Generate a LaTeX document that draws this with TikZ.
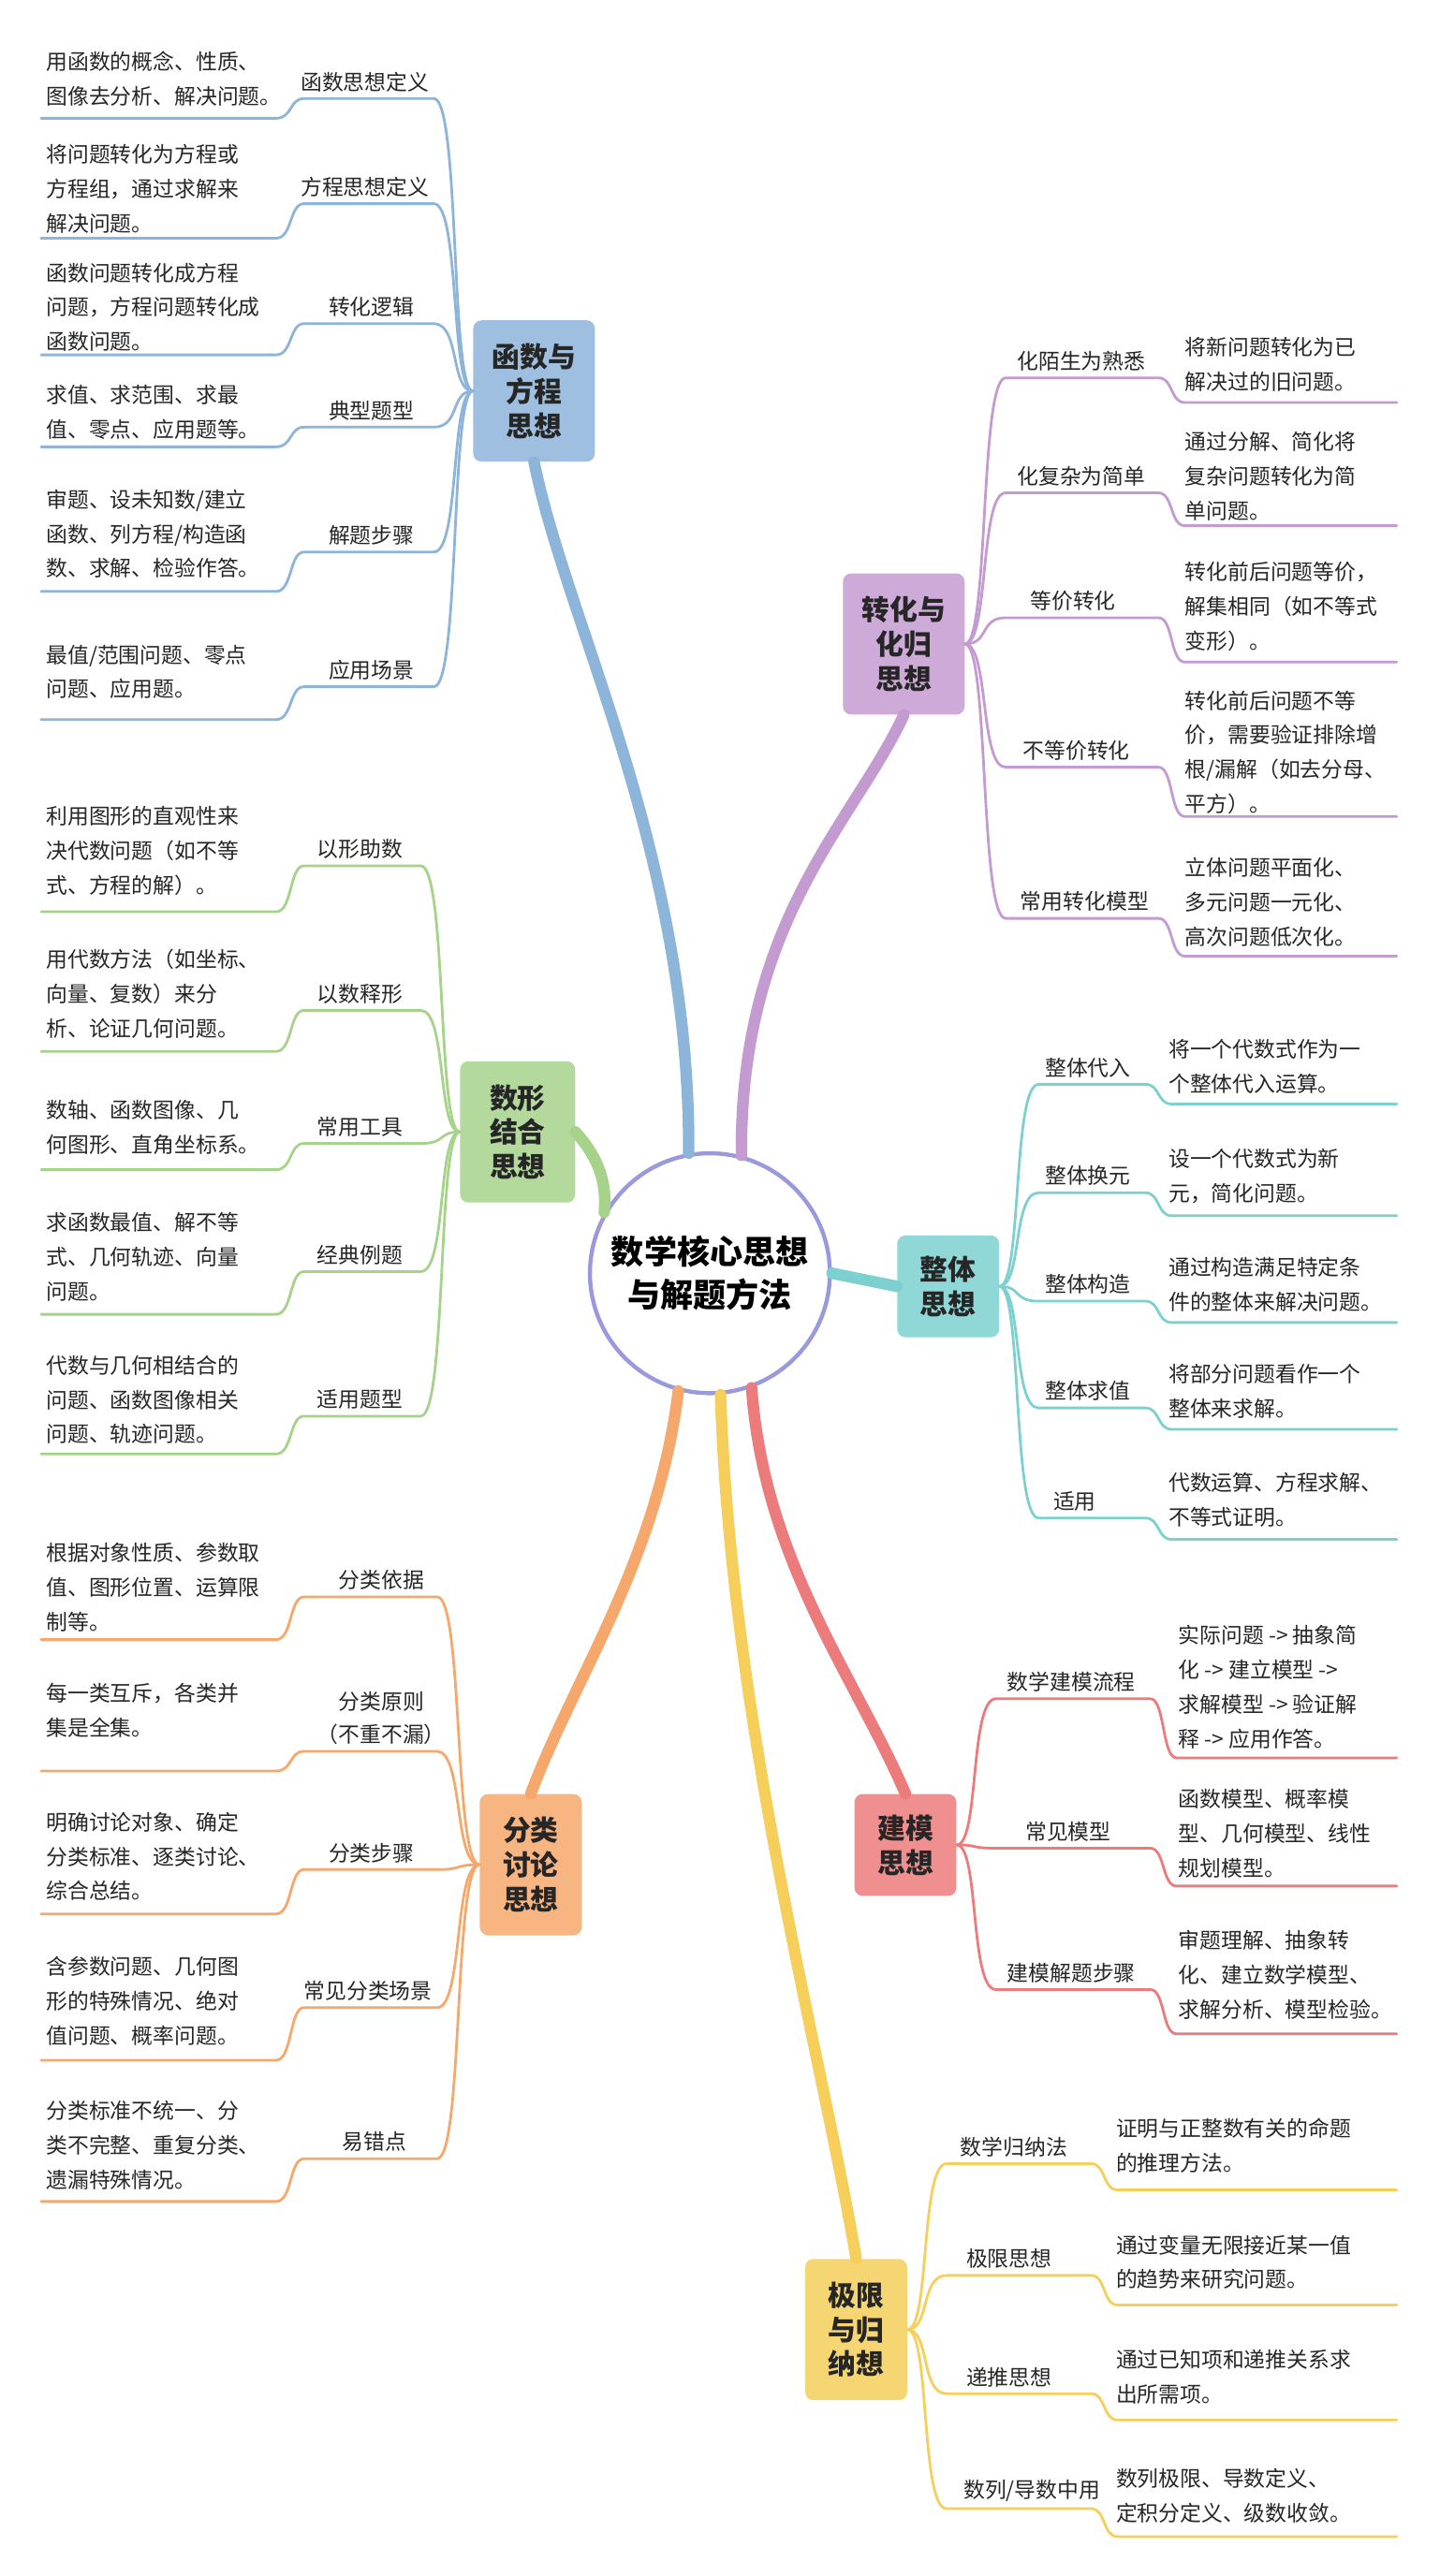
\documentclass[tikz,border=0pt]{standalone}
\usepackage{fontspec}
\setmainfont{Noto Sans CJK SC}
\begin{document}
\begin{tikzpicture}[x=1pt,y=-1pt,
 lab/.style={font=\fontsize{13}{20}\selectfont,text=black!85,align=center,inner sep=1pt},
 desc/.style={font=\fontsize{13}{21}\selectfont,text=black!85,align=left,inner sep=1pt},
 br/.style={line width=1.6pt,line cap=round},
 box/.style={rounded corners=5pt,minimum width=74pt,minimum height=86pt,align=center,font=\fontsize{17}{21}\selectfont\bfseries,text=black!85},
 trunk/.style={line width=7pt,line cap=round}]
\definecolor{cb}{HTML}{8DB4D9}\definecolor{cp}{HTML}{C49BD0}\definecolor{cc}{HTML}{7DD0D0}
\definecolor{cr}{HTML}{EC7B7B}\definecolor{cy}{HTML}{F5CF5A}\definecolor{co}{HTML}{F6A86C}\definecolor{cg}{HTML}{A6D28A}
\useasboundingbox (0,0) rectangle (876,1568);
\fill[white] (0,0) rectangle (876,1568);
\newcommand\lleaf[7]{%
\node[lab,anchor=south] (#1l) at (#2,#3+11) {#4};
\node[desc,anchor=west] (#1d) at (27,#5) {#6};
\draw[br,\cc] (\bn.west) .. controls (\bx-14,\by) and (\bx-8,#3+14) .. (\bx-24,#3+14) -- (185,#3+14) .. controls (176,#3+14) and (178,#7) .. (168,#7) -- (25,#7);}
\newcommand\rleaf[7]{%
\node[lab,anchor=south] (#1l) at (#2,#3+11) {#4};
\node[desc,anchor=west] (#1d) at (\dx,#5) {#6};
\draw[br,\cc] (\bn.east) .. controls (\bx+14,\by) and (\bx+8,#3+14) .. (\bx+24,#3+14) -- (\kx,#3+14) .. controls (\kx+9,#3+14) and (\kx+7,#7) .. (\kx+16,#7) -- (850,#7);}
% center
\node[circle,draw=black!35!blue!40,line width=2.5pt,fill=white,minimum size=146pt,align=center,font=\fontsize{20}{26}\selectfont\bfseries] (C) at (432,775) {数学核心思想\\与解题方法};
% boxes
\node[box,fill=cb!85] (fb) at (325,238) {函数与\\方程\\思想};
\node[box,fill=cp!85] (fp) at (550,392) {转化与\\化归\\思想};
\node[box,fill=cc!85,minimum width=62pt,minimum height=62pt] (fc) at (577,783) {整体\\思想};
\node[box,fill=cr!85,minimum width=62pt,minimum height=62pt] (fr) at (551,1123) {建模\\思想};
\node[box,fill=cy!85,minimum width=62pt] (fy) at (521,1418) {极限\\与归\\纳想};
\node[box,fill=co!85,minimum width=62pt] (fo) at (323,1135) {分类\\讨论\\思想};
\node[box,fill=cg!85,minimum width=70pt] (fg) at (315,689) {数形\\结合\\思想};
% trunks
\draw[trunk,cb] (C.100) .. controls (420,520) and (345,380) .. (fb.south);
\draw[trunk,cp] (C.75) .. controls (450,560) and (520,500) .. (fp.south);
\draw[trunk,cc] (C.east) -- (fc.west);
\draw[trunk,cr] (C.290) .. controls (465,950) and (520,1020) .. (fr.north);
\draw[trunk,cy] (C.275) .. controls (445,1050) and (500,1250) .. (fy.north);
\draw[trunk,co] (C.255) .. controls (400,950) and (350,1020) .. (fo.north);
\draw[trunk,cg] (C.150) .. controls (370,715) and (360,700) .. (fg.east);
% blue
\def\cc{cb}\def\bn{fb}\def\bx{288}\def\by{238}
\lleaf{b1}{222}{46}{函数思想定义}{48}{用函数的概念、性质、\\图像去分析、解决问题。}{72}
\lleaf{b2}{222}{110}{方程思想定义}{115}{将问题转化为方程或\\方程组，通过求解来\\解决问题。}{145}
\lleaf{b3}{226}{183}{转化逻辑}{187}{函数问题转化成方程\\问题，方程问题转化成\\函数问题。}{216}
\lleaf{b4}{226}{246}{典型题型}{251}{求值、求范围、求最\\值、零点、应用题等。}{272}
\lleaf{b5}{226}{322}{解题步骤}{325}{审题、设未知数/建立\\函数、列方程/构造函\\数、求解、检验作答。}{360}
\lleaf{b6}{226}{404}{应用场景}{409}{最值/范围问题、零点\\问题、应用题。}{438}
% green
\def\cc{cg}\def\bn{fg}\def\bx{280}\def\by{689}
\lleaf{g1}{219}{513}{以形助数}{518}{利用图形的直观性来\\决代数问题（如不等\\式、方程的解）。}{555}
\lleaf{g2}{219}{601}{以数释形}{605}{用代数方法（如坐标、\\向量、复数）来分\\析、论证几何问题。}{640}
\lleaf{g3}{219}{682}{常用工具}{686}{数轴、函数图像、几\\何图形、直角坐标系。}{712}
\lleaf{g4}{219}{760}{经典例题}{765}{求函数最值、解不等\\式、几何轨迹、向量\\问题。}{800}
\lleaf{g5}{219}{848}{适用题型}{852}{代数与几何相结合的\\问题、函数图像相关\\问题、轨迹问题。}{885}
% orange
\def\cc{co}\def\bn{fo}\def\bx{290}\def\by{1135}
\lleaf{o1}{232}{958}{分类依据}{966}{根据对象性质、参数取\\值、图形位置、运算限\\制等。}{998}
\lleaf{o2}{232}{1052}{分类原则\\（不重不漏）}{1041}{每一类互斥，各类并\\集是全集。}{1078}
\lleaf{o3}{226}{1124}{分类步骤}{1130}{明确讨论对象、确定\\分类标准、逐类讨论、\\综合总结。}{1165}
\lleaf{o4}{224}{1208}{常见分类场景}{1218}{含参数问题、几何图\\形的特殊情况、绝对\\值问题、概率问题。}{1254}
\lleaf{o5}{228}{1300}{易错点}{1306}{分类标准不统一、分\\类不完整、重复分类、\\遗漏特殊情况。}{1340}
% purple
\def\cc{cp}\def\bn{fp}\def\bx{588}\def\by{392}\def\dx{720}\def\kx{705}
\rleaf{p1}{658}{216}{化陌生为熟悉}{222}{将新问题转化为已\\解决过的旧问题。}{245}
\rleaf{p2}{658}{286}{化复杂为简单}{290}{通过分解、简化将\\复杂问题转化为简\\单问题。}{320}
\rleaf{p3}{653}{362}{等价转化}{369}{转化前后问题等价，\\解集相同（如不等式\\变形）。}{403}
\rleaf{p4}{655}{453}{不等价转化}{458}{转化前后问题不等\\价，需要验证排除增\\根/漏解（如去分母、\\平方）。}{497}
\rleaf{p5}{660}{545}{常用转化模型}{549}{立体问题平面化、\\多元问题一元化、\\高次问题低次化。}{582}
% cyan
\def\cc{cc}\def\bn{fc}\def\bx{608}\def\by{783}\def\dx{710}\def\kx{697}
\rleaf{c1}{662}{646}{整体代入}{649}{将一个代数式作为一\\个整体代入运算。}{672}
\rleaf{c2}{662}{712}{整体换元}{716}{设一个代数式为新\\元，简化问题。}{740}
\rleaf{c3}{662}{778}{整体构造}{782}{通过构造满足特定条\\件的整体来解决问题。}{805}
\rleaf{c4}{662}{843}{整体求值}{847}{将部分问题看作一个\\整体来求解。}{870}
\rleaf{c5}{654}{910}{适用}{913}{代数运算、方程求解、\\不等式证明。}{937}
% red
\def\cc{cr}\def\bn{fr}\def\bx{582}\def\by{1123}\def\dx{716}\def\kx{700}
\rleaf{r1}{652}{1020}{数学建模流程}{1027}{实际问题 -> 抽象简\\化 -> 建立模型 ->\\求解模型 -> 验证解\\释 -> 应用作答。}{1070}
\rleaf{r2}{650}{1111}{常见模型}{1116}{函数模型、概率模\\型、几何模型、线性\\规划模型。}{1148}
\rleaf{r3}{652}{1197}{建模解题步骤}{1202}{审题理解、抽象转\\化、建立数学模型、\\求解分析、模型检验。}{1238}
% yellow
\def\cc{cy}\def\bn{fy}\def\bx{552}\def\by{1418}\def\dx{678}\def\kx{664}
\rleaf{y1}{617}{1303}{数学归纳法}{1306}{证明与正整数有关的命题\\的推理方法。}{1333}
\rleaf{y2}{614}{1371}{极限思想}{1377}{通过变量无限接近某一值\\的趋势来研究问题。}{1403}
\rleaf{y3}{614}{1443}{递推思想}{1447}{通过已知项和递推关系求\\出所需项。}{1473}
\rleaf{y4}{628}{1513}{数列/导数中用}{1519}{数列极限、导数定义、\\定积分定义、级数收敛。}{1544}
\end{tikzpicture}
\end{document}
